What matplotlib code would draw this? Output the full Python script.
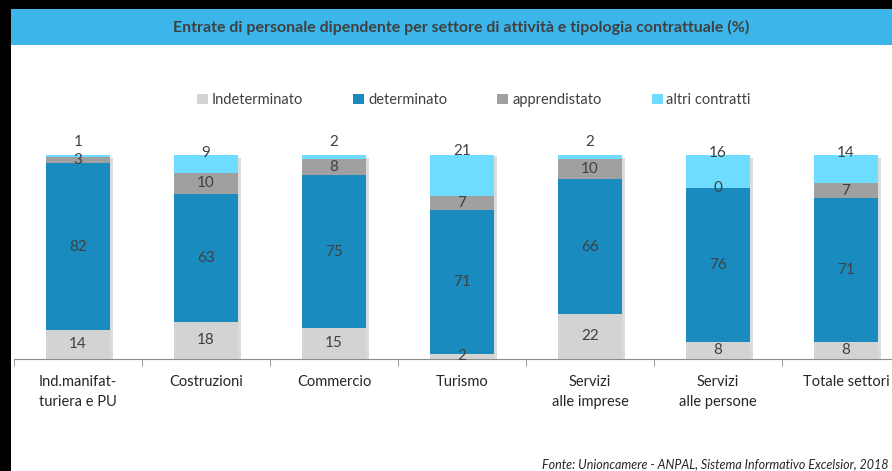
import numpy as np
import matplotlib
matplotlib.use("Agg")
import matplotlib.pyplot as plt
from matplotlib.patches import Rectangle
import matplotlib.patheffects as pe

plt.rcParams['font.family'] = ['Lato', 'DejaVu Sans']

# Data
categories = ["Ind.manifat-\nturiera e PU", "Costruzioni", "Commercio", "Turismo",
              "Servizi\nalle imprese", "Servizi\nalle persone", "Totale settori"]
series_names = ["Indeterminato", "determinato", "apprendistato", "altri contratti"]
indeterminato = [14, 18, 15, 2, 22, 8, 8]
determinato = [82, 63, 75, 71, 66, 76, 71]
apprendistato = [3, 10, 8, 7, 10, 0, 7]
altri = [1, 9, 2, 21, 2, 16, 14]

colors = ["#d3d3d3", "#1a8bbf", "#a0a0a0", "#6ddcff"]
text_col = "#404040"

W, H = 892, 471
fig = plt.figure(figsize=(W / 100, H / 100), dpi=100)
fig.patch.set_facecolor("white")

# black frame bits and blue header band
fig.patches.append(Rectangle((0, 0), 11 / W, 1, transform=fig.transFigure,
                             facecolor="black", edgecolor="none", zorder=0))
fig.patches.append(Rectangle((0, 1 - 9 / H), 1, 9 / H, transform=fig.transFigure,
                             facecolor="black", edgecolor="none", zorder=0))
fig.patches.append(Rectangle((11 / W, 1 - 45 / H), 1 - 11 / W, 36 / H,
                             transform=fig.transFigure,
                             facecolor="#3bb5ea", edgecolor="none", zorder=0))
fig.text(461 / W, 1 - 27 / H,
         "Entrate di personale dipendente per settore di attività e tipologia contrattuale (%)",
         ha="center", va="center", fontsize=11.5, fontweight="bold", color=text_col)

# axes: 128 px per category, 0 at y=358.5 px, 100 at y=155 px
ax = fig.add_axes([14 / W, (H - 358.5) / H, 896 / W, 203.5 / H])
ax.set_xlim(-0.5, 6.5)
ax.set_ylim(0, 100)
ax.patch.set_alpha(0)

x = np.arange(len(categories))
data = [indeterminato, determinato, apprendistato, altri]
totals = np.sum(np.array(data, dtype=float), axis=0)

# soft shadow behind each whole stack
sh = ax.bar(x, totals, width=0.5, color="none", edgecolor="none", zorder=1)
for b in sh:
    b.set_path_effects([pe.SimplePatchShadow(offset=(2, -2), shadow_rgbFace="#999999",
                                             alpha=0.35)])
    b.set_facecolor("white")

bottom = np.zeros(len(categories))
for name, vals, col in zip(series_names, data, colors):
    vals = np.array(vals, dtype=float)
    ax.bar(x, vals, width=0.5, bottom=bottom, color=col, label=name,
           edgecolor="none", zorder=2)
    bottom = bottom + vals

# value labels
bottom = np.zeros(len(categories))
for k, vals in enumerate(data):
    for i, v in enumerate(vals):
        if k == 3:
            top = bottom[i] + v
            y = top + (6.5 if v < 5 else 1.2)
        else:
            y = bottom[i] + v / 2
        ax.text(x[i], y, str(v), ha="center", va="center", fontsize=11,
                color=text_col, zorder=5)
    bottom = bottom + np.array(vals)

# axis styling
for s in ["top", "right", "left"]:
    ax.spines[s].set_visible(False)
ax.spines["bottom"].set_color("#8c8c8c")
ax.set_yticks([])
ax.set_xticks(x)
ax.set_xticklabels(categories, fontsize=10.5, color="#262626", linespacing=1.5)
ax.tick_params(axis="x", which="major", length=0, pad=12)
ax.set_xticks(np.arange(-0.5, 7, 1), minor=True)
ax.tick_params(axis="x", which="minor", length=5, color="#8c8c8c", direction="out")

# legend
handles, labels = ax.get_legend_handles_labels()
fig.legend(handles, labels, loc="center", bbox_to_anchor=(474 / W, 1 - 100 / H),
           ncol=4, frameon=False, fontsize=10.5, handlelength=0.75, handleheight=0.75,
           handletextpad=0.25, columnspacing=3.45, labelcolor=text_col)

fig.text(888 / W, 1 - 464 / H,
         "Fonte: Unioncamere - ANPAL, Sistema Informativo Excelsior, 2018",
         ha="right", va="center", fontsize=9, style="italic", color="#262626")

fig.savefig("out.png", dpi=100)
